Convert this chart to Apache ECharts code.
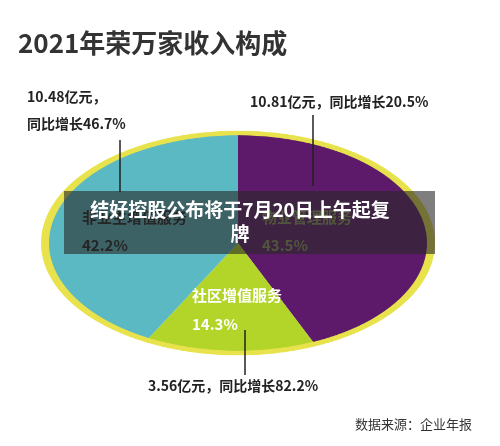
<!DOCTYPE html><html><head><meta charset="utf-8"><script src="https://cdn.jsdelivr.net/npm/echarts@6/dist/echarts.min.js"></script>
<style>body{margin:0;background:#fff}#p,#o{position:absolute;left:0;top:0;width:500px;height:446px}#p{transform:scaleY(0.57);transform-origin:0 243px}</style></head><body>
<div id="p"></div><div id="o"></div>
<script>
const categories=['物业管理服务','社区增值服务','非业主增值服务'];
const revenue=[10.81,3.56,10.48];
const shares=['43.5%','14.3%','42.2%'];
const growth=['20.5%','82.2%','46.7%'];
const colors=['#5e1a6a','#b3d52a','#5bb9c4'];
const F='"Noto Sans CJK SC",sans-serif';
const p=echarts.init(document.getElementById('p'));
p.setOption({series:[{type:'pie',center:[238,243],radius:[0,193],startAngle:90,clockwise:true,label:{show:false},
 itemStyle:{borderColor:'#e8e24c',borderWidth:0},
 data:categories.map((c,i)=>({name:c,value:revenue[i],itemStyle:{color:colors[i]}}))},
 {type:'pie',center:[238,243],radius:[189,197],silent:true,label:{show:false},data:[{value:1,itemStyle:{color:'#e8e24c'}}]}]});
const o=echarts.init(document.getElementById('o'));
const t=(x,y,s,fs,c,w)=>({type:'text',left:x,top:y,style:{text:s,font:`${w||'bold'} ${fs}px ${F}`,fill:c||'#222'}});
const ln=(x,y1,y2)=>({type:'line',shape:{x1:x,y1:y1,x2:x,y2:y2},style:{stroke:'#222',lineWidth:1.5}});
o.setOption({graphic:[
 t(18,30,'2021年荣万家收入构成',26,'#333'),
 t(27,90,revenue[2]+'亿元，',14),t(27,117,'同比增长'+growth[2],14),ln(120,140,192),
 t(250,95,revenue[0]+'亿元，同比增长'+growth[0],14),ln(313,115,186),
 t(148,379,revenue[1]+'亿元，同比增长'+growth[1],14),ln(245,330,375),
 t(82,210,categories[2],15,'#222'),t(82,238,shares[2],15,'#222'),
 t(262,210,categories[0],15,'#909a5c'),t(262,238,shares[0],15,'#909a5c'),
 t(192,288,categories[1],15,'#fff'),t(192,317,shares[1],15,'#fff'),
 {type:'rect',shape:{x:64,y:191,width:371,height:63},style:{fill:'rgba(40,40,40,0.6)'}},
 {type:'text',x:240,y:222,style:{text:'结好控股公布将于7月20日上午起复\n牌',font:`bold 19px ${F}`,fill:'#fff',align:'center',verticalAlign:'middle',lineHeight:24}},
 t(355,418,'数据来源：企业年报',13,'#333','normal')
]});
</script></body></html>
